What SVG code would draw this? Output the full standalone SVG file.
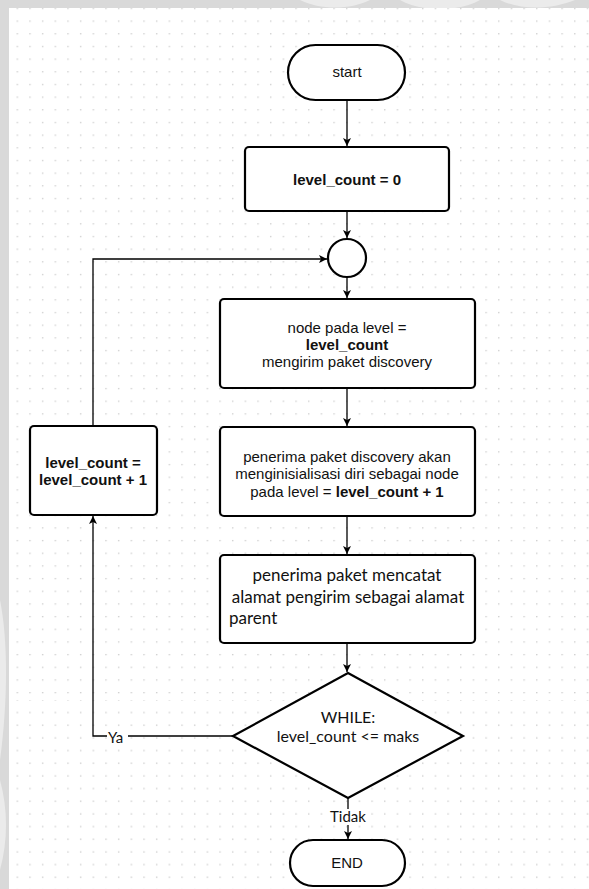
<svg xmlns="http://www.w3.org/2000/svg" width="589" height="889" viewBox="0 0 589 889">
  <defs>
    <pattern id="dotsTop" patternUnits="userSpaceOnUse" x="0" y="0" width="12.67" height="12.67">
      <rect x="4" y="7.8" width="1.3" height="1.3" fill="#c9c9c9"/>
    </pattern>
    <pattern id="dotsBottom" patternUnits="userSpaceOnUse" x="0" y="0" width="12.67" height="12.67">
      <rect x="4" y="2.4" width="1.3" height="1.3" fill="#c9c9c9"/>
    </pattern>
    <marker id="arrow" markerUnits="userSpaceOnUse" markerWidth="10" markerHeight="10" refX="8" refY="4" orient="auto">
      <path d="M0,0 L8,4 L0,8 L2,4 z" fill="#000"/>
    </marker>
    <clipPath id="frame">
      <path d="M0,0 H589 V8 H9 V889 H0 z"/>
    </clipPath>
  </defs>
  <style>
    .shape { fill: #fff; stroke: #000; stroke-width: 2.2; }
    .conn { fill: none; stroke: #000; stroke-width: 1.3; }
    .t { font-family: "Liberation Sans", Arial, sans-serif; font-size: 15px; fill: #111; text-anchor: middle; }
    .b { font-weight: bold; }
    .c { font-family: Lato, "Liberation Sans", sans-serif; font-size: 17px; fill: #111; text-anchor: middle; }
    .c.left { text-anchor: start; }
    .c.small { font-size: 16px; }
    .lbl { font-family: Lato, "Liberation Sans", sans-serif; font-size: 15px; fill: #111; }
  </style>

  <!-- page frame and dotted canvas -->
  <rect x="0" y="0" width="589" height="889" fill="#d9d9d9"/>
  <g clip-path="url(#frame)" fill="#ebebeb">
    <path d="M300,0 C320,10 350,10 370,0 z"/>
    <path d="M400,0 C420,12 460,12 480,0 z"/>
    <path d="M500,0 C520,10 550,10 575,0 z"/>
    <path d="M0,600 C8,640 8,700 0,760 z"/>
    <path d="M0,780 C8,810 8,840 0,870 z"/>
  </g>
  <rect x="9" y="8" width="580" height="692" fill="#fff"/>
  <rect x="9" y="8" width="580" height="692" fill="url(#dotsTop)"/>
  <rect x="9" y="700" width="580" height="189" fill="#fff"/>
  <rect x="9" y="700" width="580" height="189" fill="url(#dotsBottom)"/>

  <!-- connectors -->
  <g id="connectors">
    <path class="conn" d="M347,100 V146" marker-end="url(#arrow)"/>
    <path class="conn" d="M347,211 V238" marker-end="url(#arrow)"/>
    <path class="conn" d="M347,277 V298" marker-end="url(#arrow)"/>
    <path class="conn" d="M347,388 V426" marker-end="url(#arrow)"/>
    <path class="conn" d="M347,516 V554" marker-end="url(#arrow)"/>
    <path class="conn" d="M347,643 V672" marker-end="url(#arrow)"/>
    <path class="conn" d="M348,798 V839" marker-end="url(#arrow)"/>
    <path class="conn" d="M93,426 V259 H327" marker-end="url(#arrow)"/>
    <path class="conn" d="M233,736 H93 V516" marker-end="url(#arrow)"/>
    <rect x="107" y="729" width="21" height="15" fill="#fff"/>
    <text class="lbl" x="108" y="743">Ya</text>
    <rect x="330" y="809" width="36" height="16" fill="#fff"/>
    <text class="lbl" x="348" y="822" text-anchor="middle">Tidak</text>
  </g>

  <g id="start">
    <rect class="shape" x="288" y="45" width="117" height="55" rx="27.5"/>
    <text class="t" x="347" y="77">start</text>
  </g>

  <g id="init">
    <rect class="shape" x="245" y="147" width="204" height="64" rx="4"/>
    <text class="t b" x="347" y="185">level_count = 0</text>
  </g>

  <g id="join">
    <circle class="shape" cx="347" cy="258" r="19"/>
  </g>

  <g id="send">
    <rect class="shape" x="220" y="299" width="255" height="89" rx="4"/>
    <text class="t" x="347" y="333">node pada level =</text>
    <text class="t b" x="347" y="350">level_count</text>
    <text class="t" x="347" y="367">mengirim paket discovery</text>
  </g>

  <g id="receive">
    <rect class="shape" x="220" y="427" width="255" height="89" rx="4"/>
    <text class="t" x="347" y="462">penerima paket discovery akan</text>
    <text class="t" x="347" y="479">menginisialisasi diri sebagai node</text>
    <text class="t" x="347" y="497">pada level = <tspan class="b">level_count + 1</tspan></text>
  </g>

  <g id="record">
    <rect class="shape" x="220" y="555" width="255" height="88" rx="4"/>
    <text class="c" x="347" y="581">penerima paket mencatat</text>
    <text class="c" x="348" y="603">alamat pengirim sebagai alamat</text>
    <text class="c left" x="229" y="624">parent</text>
  </g>

  <g id="increment">
    <rect class="shape" x="30" y="426" width="127" height="89" rx="4"/>
    <text class="t b" x="93" y="468">level_count =</text>
    <text class="t b" x="93" y="485">level_count + 1</text>
  </g>

  <g id="loop-check">
    <polygon class="shape" points="348,673 463,736 348,798 233,736"/>
    <text class="c small" x="348" y="723">WHILE:</text>
    <text class="c small" x="348" y="742">level_count &lt;= maks</text>
  </g>

  <g id="end">
    <rect class="shape" x="290" y="840" width="115" height="46" rx="23"/>
    <text class="t" x="347" y="868">END</text>
  </g>
</svg>
